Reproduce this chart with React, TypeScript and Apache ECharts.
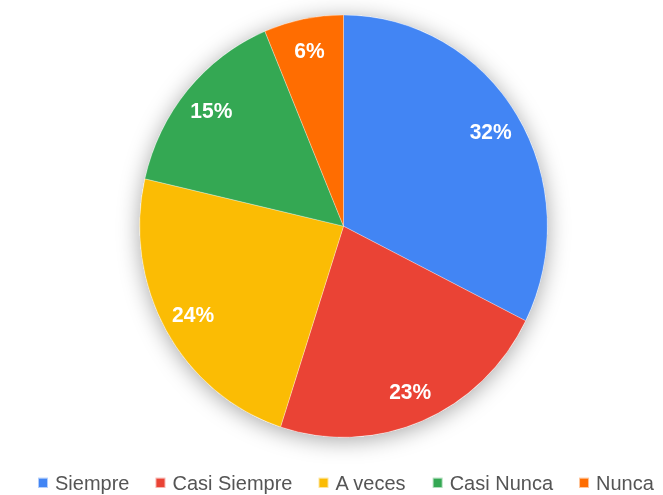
import React, { useEffect, useRef } from "react";
import * as echarts from "echarts";

const categories = ["Siempre", "Casi Siempre", "A veces", "Casi Nunca", "Nunca"];
const values = [32.4, 22.6, 23.6, 15.1, 6.3];
const colors = ["#4285F4", "#EA4335", "#FBBC04", "#34A853", "#FF6D01"];

const FONT = 'Arial, "Liberation Sans", sans-serif';
const CX = 343.5;
const CY = 218.3;
const R = 203.8;

export default function App() {
  const ref = useRef<HTMLDivElement>(null);

  useEffect(() => {
    if (!ref.current) return;
    const chart = echarts.init(ref.current, undefined, { renderer: "svg" });
    const data = categories.map((name, i) => ({
      name,
      value: values[i],
      itemStyle: { color: colors[i] },
    }));
    chart.setOption({
      animation: false,
      backgroundColor: "#ffffff",
      legend: {
        data: categories,
        left: 37,
        top: 456,
        padding: 0,
        orient: "horizontal",
        icon: "rect",
        itemWidth: 10,
        itemHeight: 10,
        itemGap: 25,
        textStyle: {
          fontFamily: FONT,
          fontSize: 20,
          color: "#555555",
          lineHeight: 20,
          padding: [0, 0, 0, 2],
        },
        selectedMode: false,
      },
      series: [
        {
          type: "pie",
          name: "shadow",
          silent: true,
          center: [CX, CY],
          radius: [0, R],
          label: { show: false },
          labelLine: { show: false },
          itemStyle: {
            color: "#ffffff",
            shadowBlur: 22,
            shadowColor: "rgba(0,0,0,0.35)",
            shadowOffsetY: 3,
          },
          data: [{ name: "_bg", value: 1 }],
        },
        {
          type: "pie",
          name: "main",
          center: [CX, CY],
          radius: [0, R],
          startAngle: 90,
          clockwise: true,
          silent: true,
          label: { show: false },
          labelLine: { show: false },
          itemStyle: { borderColor: "rgba(255,255,255,0.6)", borderWidth: 0.5 },
          data,
        },
        {
          type: "pie",
          name: "labels",
          center: [CX, CY],
          radius: [136, R],
          startAngle: 90,
          clockwise: true,
          silent: true,
          percentPrecision: 0,
          labelLine: { show: false },
          itemStyle: { color: "rgba(0,0,0,0)" },
          label: {
            show: true,
            position: "inside",
            formatter: "{d}%",
            color: "#ffffff",
            fontFamily: FONT,
            fontWeight: "bold",
            fontSize: 21,
          },
          data: categories.map((name, i) => ({
            name,
            value: values[i],
            itemStyle: { color: "rgba(0,0,0,0)" },
          })),
        },
      ],
    });
    return () => {
      chart.dispose();
    };
  }, []);

  return (
    <div
      style={{
        position: "absolute",
        left: 0,
        top: 0,
        width: 663,
        height: 495,
        overflow: "hidden",
        background: "#ffffff",
      }}
    >
      <div
        ref={ref}
        style={{
          width: 663,
          height: 478,
          transform: "scaleY(1.036)",
          transformOrigin: "0 0",
        }}
      />
    </div>
  );
}
